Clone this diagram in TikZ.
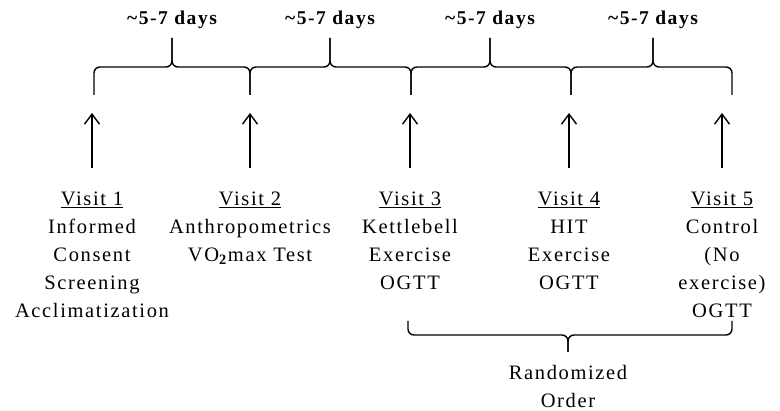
\documentclass[tikz,border=0pt]{standalone}
\usepackage{fontspec}
\setmainfont{Liberation Serif}[LetterSpace=8]
\usetikzlibrary{arrows.meta}
\tikzset{
  visit/.style={anchor=north,inner sep=0pt,align=center,font=\fontsize{20.5}{28}\selectfont},
  gap/.style={inner sep=0pt,font=\fontsize{19.5}{22}\selectfont\bfseries},
  visarrow/.style={line width=1.4pt,-{Straight Barb[length=10pt,width=15pt]}},
  brace/.style={line width=1.4pt,rounded corners=6pt}
}
\begin{document}
\begin{tikzpicture}[x=1pt,y=-1pt]
   \useasboundingbox (0,0) rectangle (780,411);
   %visits
   \node[visit] (v1) at (92,192) {\underline{Visit 1}\\Informed\\Consent\\Screening\\Acclimatization};
   \node[visit] (v2) at (250,192) {\underline{Visit 2}\\Anthropometrics\\VO\textsubscript{\textbf{2}}max Test};
   \node[visit] (v3) at (410,192) {\underline{Visit 3}\\Kettlebell\\Exercise\\OGTT};
   \node[visit] (v4) at (569,192) {\underline{Visit 4}\\HIT\\Exercise\\OGTT};
   \node[visit] (v5) at (722,192) {\underline{Visit 5}\\Control\\(No\\exercise)\\OGTT};
   %arrows
   \foreach \v in {v1,v2,v3,v4,v5}
     \draw[visarrow] ([yshift=24pt]\v.north) -- ++(0,-55);
   %top braces
   \foreach \a/\b/\m/\n in {94/250/172/d1,250/411/330/d2,411/571/490/d3,571/732/653/d4} {
     \coordinate (\n tip) at (\m,38);
     \draw[brace] (\a,95) -- (\a,67) -- (\m,67) -- (\n tip);
     \draw[brace] (\n tip) -- (\m,67) -- (\b,67) -- (\b,95);
     \node[gap] (\n) at (\m,20) {\textasciitilde5-7 days};
   }
   %bottom brace
   \coordinate (rtip) at (568,352);
   \draw[brace] (408,321) -- (408,335) -- (568,335) -- (rtip);
   \draw[brace] (rtip) -- (568,335) -- (732,335) -- (732,321);
   \node[visit] (order) at (568,365) {Randomized\\Order};
\end{tikzpicture}
\end{document}
